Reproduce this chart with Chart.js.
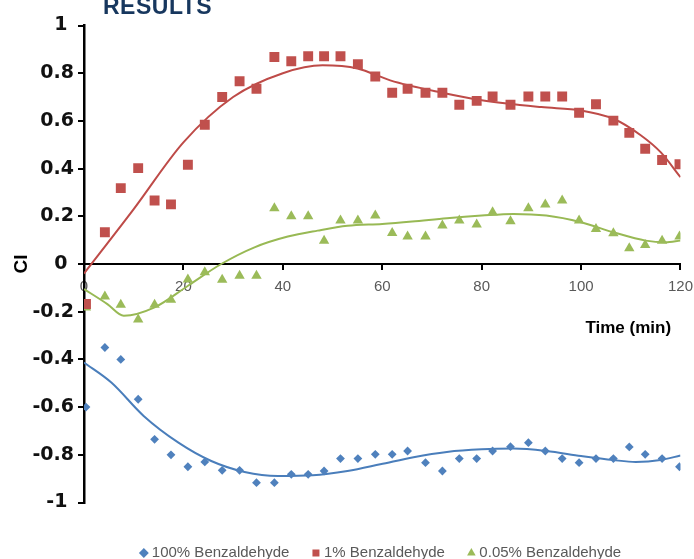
<!DOCTYPE html>
<html>
<head>
<meta charset="utf-8">
<script src="https://cdn.jsdelivr.net/npm/chart.js@4.4.1/dist/chart.umd.min.js"></script>
<style>
  html, body { margin: 0; padding: 0; background: #fff; overflow: hidden; }
  #wrap { position: relative; width: 694px; height: 559px; overflow: hidden; }
  #heading {
    position: absolute; left: 103px; top: -5px;
    font: bold 23px "Liberation Sans", Arial, sans-serif; line-height: 1;
    letter-spacing: 0.5px; color: #17375e;
  }
  canvas { position: absolute; left: 0; top: 0; }
</style>
</head>
<body>
<div id="wrap">
  <canvas id="ciChart" width="702" height="580"></canvas>
  <div id="heading">RESULTS</div>
</div>
<script>
// sampling times (min), shared by all three series
const times = [0.4, 4.2, 7.4, 10.9, 14.2, 17.5, 20.9, 24.3, 27.8, 31.3, 34.7, 38.3,
  41.7, 45.1, 48.3, 51.6, 55.1, 58.6, 62.0, 65.1, 68.7, 72.1, 75.5, 79.0,
  82.2, 85.8, 89.4, 92.8, 96.2, 99.6, 103.0, 106.5, 109.7, 112.9, 116.3, 119.8];

const ci100 = [-0.60, -0.35, -0.40, -0.567, -0.735, -0.80, -0.85, -0.83, -0.865, -0.865, -0.917, -0.917,
  -0.882, -0.882, -0.868, -0.816, -0.816, -0.798, -0.798, -0.784, -0.833, -0.868, -0.816, -0.816,
  -0.784, -0.766, -0.749, -0.784, -0.816, -0.833, -0.816, -0.816, -0.767, -0.798, -0.816, -0.850];

const ci1 = [-0.168, 0.133, 0.318, 0.402, 0.266, 0.25, 0.416, 0.584, 0.70, 0.766, 0.735, 0.868,
  0.85, 0.871, 0.871, 0.871, 0.838, 0.786, 0.718, 0.735, 0.718, 0.718, 0.668, 0.684,
  0.702, 0.668, 0.702, 0.702, 0.702, 0.634, 0.670, 0.601, 0.55, 0.483, 0.436, 0.418];

const ci005 = [-0.182, -0.136, -0.171, -0.233, -0.171, -0.150, -0.065, -0.035, -0.066, -0.049, -0.049, 0.234,
  0.20, 0.20, 0.098, 0.182, 0.182, 0.203, 0.130, 0.115, 0.115, 0.161, 0.182, 0.166,
  0.217, 0.179, 0.234, 0.25, 0.266, 0.182, 0.147, 0.129, 0.066, 0.080, 0.098, 0.115];

// trend lines
const trend100T = [0, 5.5, 12, 19, 25.6, 32.3, 39, 46, 53, 59.6, 66.3, 73, 80, 86.4, 93, 100, 106.5, 111, 116, 120];
const trend100 = [-0.413, -0.497, -0.637, -0.749, -0.826, -0.872, -0.889, -0.886, -0.868, -0.84, -0.81, -0.788, -0.777, -0.774, -0.784, -0.805, -0.822, -0.830, -0.822, -0.803];

const trend1T = [0, 10, 20, 30, 40, 48, 55, 61.6, 71.6, 80, 92, 100, 106.5, 112, 116, 120];
const trend1 = [-0.04, 0.23, 0.51, 0.70, 0.80, 0.833, 0.82, 0.77, 0.72, 0.687, 0.658, 0.644, 0.609, 0.54, 0.469, 0.364];

const trend005T = [0, 4.7, 8, 14.2, 21, 27.6, 34.3, 41, 47, 53, 60, 66, 73, 80, 86.4, 93, 100, 106.5, 113, 117, 120];
const trend005 = [-0.105, -0.168, -0.217, -0.182, -0.09, 0.0, 0.07, 0.115, 0.14, 0.16, 0.168, 0.178, 0.192, 0.203, 0.21, 0.203, 0.175, 0.133, 0.098, 0.091, 0.098];

const seriesNames = ['100% Benzaldehyde', '1% Benzaldehyde', '0.05% Benzaldehyde'];

const pairs = (xs, ys) => xs.map((x, i) => ({ x: x, y: ys[i] }));

function markers(label, ys, color, style, radius) {
    return {
        label: label,
        data: pairs(times, ys),
        showLine: false,
        pointStyle: style,
        pointRadius: radius,
        pointBorderWidth: 0,
        pointBackgroundColor: color,
        backgroundColor: color,
        borderColor: color
    };
}

function trendline(xs, ys, color) {
    return {
        label: 'trend',
        data: pairs(xs, ys),
        showLine: true,
        pointRadius: 0,
        borderColor: color,
        borderWidth: 2,
        cubicInterpolationMode: 'monotone',
        fill: false
    };
}

const ctx = document.getElementById('ciChart').getContext('2d');

new Chart(ctx, {
    type: 'scatter',
    data: {
        datasets: [
            markers(seriesNames[0], ci100, '#4f81bd', 'rectRot', 4.4),
            markers(seriesNames[1], ci1, '#c0504d', 'rect', 7),
            markers(seriesNames[2], ci005, '#9bbb59', 'triangle', 6),
            trendline(trend100T, trend100, '#4a7ebb'),
            trendline(trend1T, trend1, '#be4b48'),
            trendline(trend005T, trend005, '#98b954')
        ]
    },
    options: {
        responsive: false,
        animation: false,
        events: [],
        layout: { padding: { left: 0, right: 14, top: 25.5, bottom: 9.5 } },
        scales: {
            x: {
                type: 'linear',
                position: { y: 0 },
                min: 0,
                max: 120,
                ticks: {
                    stepSize: 20,
                    maxRotation: 0,
                    padding: 9,
                    color: '#595959',
                    font: { family: 'Liberation Sans', size: 15 }
                },
                grid: { drawOnChartArea: false, tickLength: 5, color: '#000', lineWidth: 2 },
                border: { color: '#000', width: 2 },
                title: {
                    display: true,
                    text: 'Time (min)  ',
                    align: 'end',
                    color: '#000',
                    padding: { top: 13, bottom: 0 },
                    font: { family: 'Liberation Sans', size: 17, weight: 'bold' }
                }
            },
            y: {
                min: -1,
                max: 1,
                ticks: {
                    stepSize: 0.2,
                    padding: 4,
                    color: '#111',
                    font: { family: 'DejaVu Sans', size: 19, weight: 'bold' },
                    callback: function(v) {
                        if (Math.abs(v - Math.round(v)) < 1e-9) return Math.round(v) + ' ';
                        return v.toFixed(1);
                    }
                },
                grid: { drawOnChartArea: false, tickLength: 6, color: '#000', lineWidth: 2 },
                border: { color: '#000', width: 2.5 },
                title: {
                    display: true,
                    text: 'CI',
                    color: '#000',
                    padding: { top: 10, bottom: 0 },
                    font: { family: 'Liberation Sans', size: 19, weight: 'bold' }
                },
                afterFit: function(scale) { scale.width = 84; }
            },
            // empty axis that only keeps the legend away from the plot
            gap: {
                type: 'linear',
                position: 'bottom',
                display: true,
                ticks: { display: false },
                grid: { display: false },
                border: { display: false },
                afterFit: function(scale) { scale.height = 17; }
            }
        },
        plugins: {
            tooltip: { enabled: false },
            legend: {
                position: 'bottom',
                fullSize: false,
                labels: {
                    usePointStyle: true,
                    boxWidth: 1,
                    boxHeight: 7,
                    padding: 26,
                    color: '#595959',
                    font: { family: 'Liberation Sans', size: 15 },
                    filter: function(item) { return item.datasetIndex < 3; }
                }
            }
        }
    }
});
</script>
</body>
</html>
